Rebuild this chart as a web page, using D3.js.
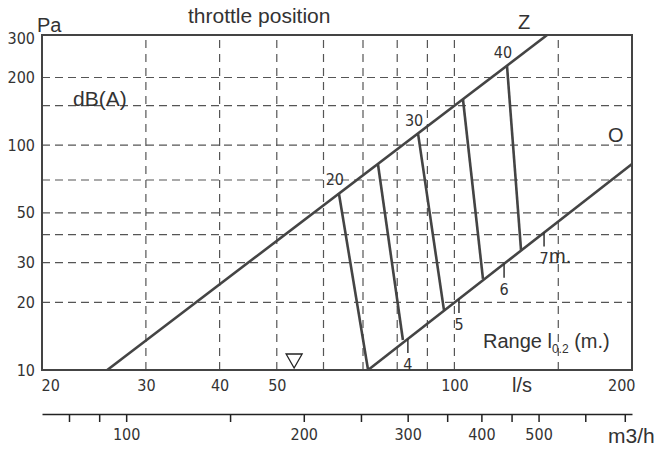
<!DOCTYPE html>
<html>
<head>
<meta charset="utf-8">
<script src="https://cdn.jsdelivr.net/npm/d3@7"></script>
<style>
  html, body { margin: 0; padding: 0; background: #fff; }
  svg { display: block; }
  .num { font-family: "Liberation Sans Narrow", "Arial Narrow", "DejaVu Sans Condensed", sans-serif; font-size: 16px; fill: #333; }
  .lbl { font-family: "Liberation Sans", Arial, sans-serif; font-size: 20px; fill: #333; }
</style>
</head>
<body>
<svg id="chart" width="668" height="450"></svg>
<script>
// ---- data ----
const flowTicks = [20, 30, 40, 50, 100, 200];          // l/s labels
const pressureTicks = [10, 20, 30, 50, 100, 200, 300]; // Pa labels
const flowGrid = [30, 40, 50, 60, 70, 80, 90, 100, 150];
const pressureGrid = [20, 30, 40, 50, 70, 100, 150, 200];
const m3hTicks = [80, 90, 100, 150, 200, 250, 300, 350, 400, 450, 500, 600, 700];
const m3hLabels = [100, 200, 300, 400, 500];
const zLine = [[25.8, 10], [143.6, 309]];   // fully open
const oLine = [[71.4, 10], [200, 82.5]];    // closed
const throttleTop = [[63.7, 61.3], [74.2, 82.5], [86.8, 112], [103.4, 160], [122.8, 225]];
const throttleBottom = [[71.4, 10], [81.8, 13.6], [96.0, 18.5], [111.8, 25.4], [129.7, 34.2]];
const throttleLabels = ["20", "", "30", "", "40"];
const rangeFlow = [83.4, 101.8, 121.4, 141.9];
const rangeLabels = ["4", "5", "6", "7"];
const markerFlow = 53.5;

// ---- drawing ----
const svg = d3.select("#chart");
const x = d3.scaleLog().domain([20, 200]).range([42, 632]);
const y = d3.scaleLog().domain([10, 309]).range([370, 35]);
const xm = d3.scaleLog().domain([72, 720]).range([42, 632]);
const ink = "#444";

// grid
svg.append("g").selectAll("line").data(pressureGrid).join("line")
  .attr("x1", x(20)).attr("x2", x(200))
  .attr("y1", d => y(d)).attr("y2", d => y(d))
  .attr("stroke", "#555").attr("stroke-width", 1.2).attr("stroke-dasharray", "8,5");
svg.append("g").selectAll("line").data(flowGrid).join("line")
  .attr("x1", d => x(d)).attr("x2", d => x(d))
  .attr("y1", y(10)).attr("y2", y(309))
  .attr("stroke", "#555").attr("stroke-width", 1.2).attr("stroke-dasharray", "8,6");

// frame
svg.append("rect")
  .attr("x", x(20)).attr("y", y(309))
  .attr("width", x(200) - x(20)).attr("height", y(10) - y(309))
  .attr("fill", "none").attr("stroke", ink).attr("stroke-width", 2);

// y axis
const ya = svg.append("g").attr("transform", `translate(${x(20)},0)`)
  .call(d3.axisLeft(y).tickValues(pressureTicks).tickSize(0).tickPadding(7).tickFormat(d3.format("d")));
ya.select(".domain").remove();
ya.selectAll("text").attr("class", "num").attr("font-family", null).attr("font-size", null);

// x axis (l/s)
const xa = svg.append("g").attr("transform", `translate(0,${y(10)})`)
  .call(d3.axisBottom(x).tickValues(flowTicks).tickSize(0).tickPadding(10).tickFormat(d3.format("d")));
xa.select(".domain").remove();
xa.selectAll("text").attr("class", "num").attr("font-family", null).attr("font-size", null)
  .attr("text-anchor", d => d === 20 ? "start" : d === 200 ? "end" : "middle")
  .attr("dx", d => d === 20 ? -1 : d === 200 ? 3 : 0);

// m3/h axis
const ma = svg.append("g").attr("transform", "translate(0,414)")
  .call(d3.axisBottom(xm).tickValues(m3hTicks).tickSize(8).tickSizeOuter(0).tickPadding(7)
    .tickFormat(d => m3hLabels.includes(d) ? d : ""));
ma.select(".domain").attr("stroke", "#222").attr("stroke-width", 1.5);
ma.selectAll(".tick line").attr("stroke", "#222").attr("stroke-width", 1.5);
ma.selectAll("text").attr("class", "num").attr("font-family", null).attr("font-size", null);

// curves
const line = d3.line().x(d => x(d[0])).y(d => y(d[1]));
svg.append("path").datum(zLine).attr("d", line)
  .attr("fill", "none").attr("stroke", ink).attr("stroke-width", 2.6);
svg.append("path").datum(oLine).attr("d", line)
  .attr("fill", "none").attr("stroke", ink).attr("stroke-width", 2.6);
svg.append("g").selectAll("path").data(throttleTop.map((t, i) => [t, throttleBottom[i]])).join("path")
  .attr("d", line).attr("fill", "none").attr("stroke", ink).attr("stroke-width", 2.6);

// throttle labels
svg.append("g").selectAll("text").data(throttleTop).join("text")
  .attr("class", "num").attr("text-anchor", "middle")
  .attr("x", d => x(d[0]) - 4).attr("y", d => y(d[1]) - 8)
  .text((d, i) => throttleLabels[i]);

// range ticks on O line
function oY(f) {
  const [a, b] = oLine;
  const t = Math.log(f / a[0]) / Math.log(b[0] / a[0]);
  return Math.exp(Math.log(a[1]) + t * (Math.log(b[1]) - Math.log(a[1])));
}
const rg = svg.append("g");
rg.selectAll("line").data(rangeFlow).join("line")
  .attr("x1", d => x(d)).attr("x2", d => x(d))
  .attr("y1", d => y(oY(d))).attr("y2", d => y(oY(d)) + 14)
  .attr("stroke", "#333").attr("stroke-width", 1.5);
rg.selectAll("text").data(rangeFlow).join("text")
  .attr("class", "num").attr("text-anchor", "middle")
  .attr("x", d => x(d)).attr("y", d => y(oY(d)) + 31)
  .text((d, i) => rangeLabels[i]);

// marker triangle
const mx = x(markerFlow), my = y(10) - 2;
svg.append("path")
  .attr("d", `M${mx},${my} L${mx - 8},${my - 14} L${mx + 8},${my - 14} Z`)
  .attr("fill", "none").attr("stroke", "#222").attr("stroke-width", 1.3);

// text labels
const T = (tx, ty, s, size) => svg.append("text").attr("class", "lbl").attr("x", tx).attr("y", ty)
  .style("font-size", size ? size + "px" : null).text(s);
T(37, 32, "Pa");
T(188, 23, "throttle position", 21);
T(73, 106, "dB(A)", 21);
T(518, 29, "Z");
T(608, 142, "O");
T(549, 263, "m.");
T(512, 392, "l/s");
T(608, 443, "m3/h", 21);
const rt = svg.append("text").attr("class", "lbl").attr("x", 483).attr("y", 348);
rt.append("tspan").text("Range l");
rt.append("tspan").attr("dy", 5).style("font-size", "12px").text("0.2");
rt.append("tspan").attr("dy", -5).text(" (m.)");
</script>
</body>
</html>
